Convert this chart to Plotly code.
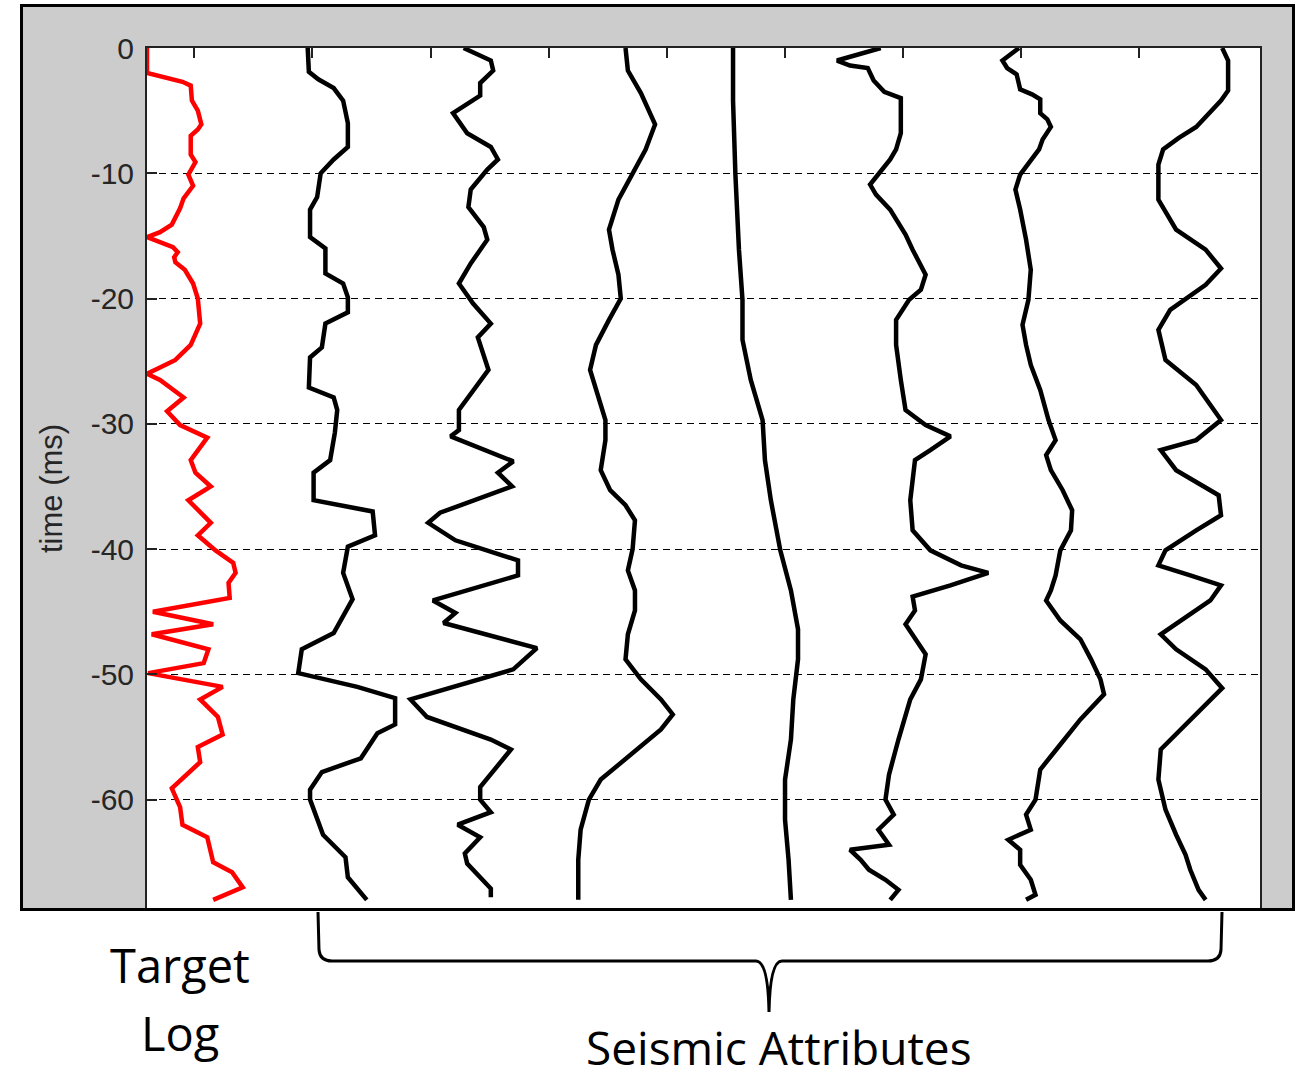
import plotly.graph_objects as go

# ---- data: time (ms) and trace amplitude (offset track units) ----
red_t = [0, -2, -2.7, -3, -4.2, -5, -6.1, -6.5, -7, -8.5, -9.1, -9.7, -10.1, -11, -12, -12.8, -14.1,
         -14.7, -15.1, -15.9, -16.3, -16.7, -17.1, -17.7, -18.8, -20, -22, -23.7, -24.9, -25.5, -26,
         -26.5, -27.9, -29, -30.1, -31.1, -32.9, -33.9, -35, -36.1, -37.9, -38.9, -40.1, -41.1, -41.9,
         -42.7, -43.9, -45, -46, -46.8, -48, -49.1, -49.9, -51, -52, -53.4, -54.8, -55.8, -57, -59.1,
         -60.6, -62, -63, -65, -65.8, -67, -68]
red_x = [-0.40, -0.40, -0.10, -0.03, -0.02, 0.03, 0.06, 0.03, -0.03, -0.03, 0.01, -0.03, -0.05, -0.01,
         -0.09, -0.12, -0.19, -0.29, -0.40, -0.18, -0.14, -0.17, -0.16, -0.08, -0.01, 0.03, 0.05,
         -0.03, -0.16, -0.29, -0.40, -0.29, -0.09, -0.23, -0.12, 0.11, -0.03, 0.01, 0.14, -0.05,
         0.14, 0.03, 0.18, 0.33, 0.35, 0.29, 0.30, -0.35, 0.16, -0.36, 0.12, 0.08, -0.39, 0.24,
         0.05, 0.20, 0.24, 0.03, 0.05, -0.19, -0.12, -0.10, 0.11, 0.16, 0.32, 0.41, 0.16]

a1_t = [0, -1.9, -2.5, -3.2, -4.2, -6, -7.9, -8.9, -10, -11.9, -12.9, -15.1, -16, -18, -18.8, -19.9,
        -21.1, -22, -23.9, -24.7, -27.1, -27.9, -28.9, -30.7, -32.9, -33.9, -36.1, -37, -38.9, -39.8,
        -41.9, -44, -46.7, -48, -49.9, -51, -51.9, -54, -54.7, -56.7, -57.8, -59.2, -60, -62.8,
        -64.6, -66.2, -68]
a1_x = [0.96, 0.97, 1.05, 1.18, 1.26, 1.30, 1.30, 1.18, 1.07, 1.04, 0.98, 0.98, 1.11, 1.11, 1.26,
        1.30, 1.30, 1.11, 1.08, 0.98, 0.97, 1.18, 1.21, 1.19, 1.15, 1.01, 1.01, 1.51, 1.53, 1.30,
        1.26, 1.34, 1.18, 0.91, 0.88, 1.38, 1.70, 1.70, 1.55, 1.41, 1.08, 0.98, 0.98, 1.09, 1.28,
        1.30, 1.46]

a2_t = [0, -1, -1.8, -2.8, -3.8, -5.2, -6.8, -7.9, -8.9, -9.7, -11.3, -12.7, -14.3, -15.3, -17.2,
        -18.8, -20.4, -22, -23.1, -25.7, -28.9, -30.5, -31, -33, -33.9, -35, -37.1, -37.9, -39.3,
        -40.9, -42.1, -44.1, -45.1, -45.9, -47.9, -49.6, -52, -53.4, -55.2, -56, -59, -60, -61,
        -62, -63, -64.3, -65.1, -67.1, -67.8]
a2_x = [2.28, 2.51, 2.53, 2.42, 2.42, 2.19, 2.31, 2.51, 2.57, 2.48, 2.34, 2.32, 2.45, 2.48, 2.34,
        2.24, 2.36, 2.51, 2.40, 2.49, 2.24, 2.24, 2.17, 2.70, 2.57, 2.69, 2.08, 1.98, 2.21, 2.74,
        2.74, 2.02, 2.21, 2.11, 2.90, 2.70, 1.83, 1.97, 2.51, 2.68, 2.42, 2.42, 2.51, 2.23, 2.42,
        2.29, 2.31, 2.51, 2.51]

a3_t = [0, -1.8, -3.6, -6.1, -8.1, -10.1, -12.1, -14.5, -16.1, -18.1, -20, -21.7, -23.7, -25.7,
        -27.3, -29.7, -31.3, -33.7, -35.3, -36.5, -37.7, -40, -41.7, -43.3, -44.9, -46.8, -48.8,
        -50.4, -52, -53.2, -54.4, -56.4, -58.4, -60, -62.4, -64.8, -68]
a3_x = [3.65, 3.67, 3.78, 3.90, 3.82, 3.71, 3.59, 3.51, 3.54, 3.59, 3.61, 3.51, 3.40, 3.35, 3.40,
        3.48, 3.48, 3.44, 3.52, 3.65, 3.73, 3.71, 3.67, 3.73, 3.73, 3.67, 3.65, 3.78, 3.95, 4.05,
        3.95, 3.69, 3.44, 3.34, 3.27, 3.25, 3.25]

a4_t = [0, -4.2, -10.1, -16.1, -20.1, -23.3, -26.5, -29.7, -32.9, -36.1, -40.1, -43.3, -46.4, -48.8,
        -52, -55.2, -58.4, -61.6, -64.8, -68]
a4_x = [4.56, 4.56, 4.58, 4.61, 4.64, 4.64, 4.71, 4.81, 4.83, 4.88, 4.96, 5.05, 5.11, 5.11, 5.07,
        5.05, 5.00, 5.00, 5.03, 5.05]

a5_t = [0, -1, -1.4, -1.6, -2.6, -3.5, -4, -6.8, -8.1, -8.9, -10.9, -11.7, -12.9, -14.9, -16.1,
        -18.1, -19.3, -20.1, -21.7, -23.7, -26.5, -28.9, -30.1, -31, -32.1, -32.9, -36.1, -38.5,
        -40.1, -41.3, -41.9, -42.9, -43.8, -44.9, -46, -47.2, -48.4, -50.4, -52, -55.2, -58, -60,
        -61.2, -62.4, -63.6, -64, -64.8, -65.6, -66.4, -67.2, -68]
a5_x = [5.81, 5.44, 5.55, 5.70, 5.75, 5.84, 5.98, 5.98, 5.94, 5.89, 5.72, 5.77, 5.89, 6.02, 6.08,
        6.19, 6.15, 6.05, 5.94, 5.94, 5.98, 6.02, 6.19, 6.40, 6.23, 6.10, 6.06, 6.08, 6.23, 6.49,
        6.72, 6.40, 6.08, 6.10, 6.02, 6.10, 6.19, 6.15, 6.06, 5.96, 5.88, 5.85, 5.92, 5.79, 5.88,
        5.55, 5.64, 5.71, 5.85, 5.96, 5.89]

a6_t = [0, -1, -1.6, -2.1, -2.9, -3.3, -3.7, -4.1, -5.2, -5.7, -6.3, -7.3, -8.1, -10.1, -11.3,
        -12.9, -15.3, -17.7, -20.1, -22.1, -23.7, -25.3, -27.3, -29.7, -31.3, -32.5, -33.7, -35.3,
        -36.9, -38.5, -40.1, -42.1, -43.3, -44.1, -45.7, -47.2, -48.8, -50.4, -51.6, -53.6, -55.6,
        -57.6, -60, -61.2, -62.4, -63.2, -64, -65.2, -66.4, -67.6, -68]
a6_x = [6.98, 6.84, 6.88, 6.96, 6.98, 6.99, 7.09, 7.16, 7.16, 7.22, 7.25, 7.18, 7.15, 6.99, 6.95,
        6.99, 7.04, 7.08, 7.06, 7.01, 7.04, 7.08, 7.16, 7.23, 7.29, 7.21, 7.25, 7.35, 7.43, 7.42,
        7.33, 7.29, 7.25, 7.21, 7.33, 7.50, 7.59, 7.67, 7.70, 7.50, 7.33, 7.16, 7.12, 7.04, 7.08,
        6.89, 6.99, 6.99, 7.08, 7.12, 7.04]

a7_t = [0, -1, -3.4, -4.2, -6.3, -7.2, -8.1, -9.3, -12.1, -14.5, -16.1, -17.6, -18.9, -20.9, -22.5,
        -24.9, -26.9, -29.7, -31.3, -32.1, -33.7, -35.7, -37.3, -38.5, -40.1, -41.3, -42.1, -42.9,
        -44.1, -45.7, -46.8, -48, -49.6, -51.1, -52.4, -54, -56, -58.4, -60.8, -62.8, -64.4, -65.6,
        -67.2, -68]
a7_x = [8.70, 8.75, 8.75, 8.69, 8.48, 8.33, 8.20, 8.16, 8.16, 8.31, 8.56, 8.69, 8.56, 8.26, 8.16,
        8.22, 8.48, 8.69, 8.48, 8.18, 8.31, 8.67, 8.69, 8.48, 8.22, 8.16, 8.43, 8.69, 8.60, 8.35,
        8.18, 8.31, 8.56, 8.70, 8.56, 8.39, 8.18, 8.16, 8.22, 8.31, 8.39, 8.43, 8.50, 8.56]

y_ticks = [0, -10, -20, -30, -40, -50, -60]
y_tick_text = ["0", "-10", "-20", "-30", "-40", "-50", "-60"]
x_ticks = [0, 1, 2, 3, 4, 5, 6, 7, 8]

# ---- figure geometry (pixels) ----
W, H = 1296, 1080
L, R, T, B = 147, 1260, 48, 908


def px(x):
    return (x - L) / (R - L)


def py(y):
    return (B - y) / (B - T)


fig = go.Figure()

fig.add_trace(go.Scatter(x=red_x, y=red_t, mode="lines",
                         line=dict(color="#ff0000", width=4.5), showlegend=False))
for xs, ts in [(a1_x, a1_t), (a2_x, a2_t), (a3_x, a3_t), (a4_x, a4_t),
               (a5_x, a5_t), (a6_x, a6_t), (a7_x, a7_t)]:
    fig.add_trace(go.Scatter(x=xs, y=ts, mode="lines",
                             line=dict(color="black", width=4.5), showlegend=False))

# gray window frame around the axes
gray = "#cccccc"
shapes = [
    dict(type="rect", xref="paper", yref="paper", x0=px(20), x1=px(1295), y0=py(48), y1=py(5),
         fillcolor=gray, line=dict(width=0), layer="below"),
    dict(type="rect", xref="paper", yref="paper", x0=px(20), x1=px(147), y0=py(910), y1=py(48),
         fillcolor=gray, line=dict(width=0), layer="below"),
    dict(type="rect", xref="paper", yref="paper", x0=px(1260), x1=px(1295), y0=py(910), y1=py(48),
         fillcolor=gray, line=dict(width=0), layer="below"),
    dict(type="rect", xref="paper", yref="paper", x0=px(21.5), x1=px(1293.5), y0=py(909.5),
         y1=py(5.5), line=dict(color="black", width=3), fillcolor="rgba(0,0,0,0)", layer="above"),
]


def pt(x, y):
    return f"{px(x):.5f},{py(y):.5f}"


# curly brace under the attribute tracks
brace = (f"M {pt(318, 912)} L {pt(319, 950)} Q {pt(320, 961)} {pt(332, 961)} "
         f"L {pt(756, 961)} Q {pt(768, 961)} {pt(769, 1012)} "
         f"Q {pt(770, 961)} {pt(782, 961)} L {pt(1208, 961)} "
         f"Q {pt(1220, 961)} {pt(1221, 950)} L {pt(1222, 912)}")
shapes.append(dict(type="path", xref="paper", yref="paper", path=brace,
                   line=dict(color="black", width=3), layer="above"))

label_font = dict(family="Open Sans", size=47, color="black")
annotations = [
    dict(text="Target", x=px(180), y=py(965), xref="paper", yref="paper", showarrow=False,
         xanchor="center", yanchor="middle", font=label_font),
    dict(text="Log", x=px(180), y=py(1033), xref="paper", yref="paper", showarrow=False,
         xanchor="center", yanchor="middle", font=label_font),
    dict(text="Seismic Attributes", x=px(779), y=py(1079), xref="paper", yref="paper",
         showarrow=False, xanchor="center", yanchor="bottom", borderpad=0,
         font=dict(family="Open Sans", size=46, color="black")),
    dict(text="time (ms)", x=px(52), y=py(489), xref="paper", yref="paper", showarrow=False,
         xanchor="center", yanchor="middle", textangle=-90,
         font=dict(family="Liberation Sans", size=31, color="#262626")),
]

fig.update_layout(
    width=W, height=H,
    margin=dict(l=L, r=W - R, t=T, b=H - B, pad=0),
    paper_bgcolor="white", plot_bgcolor="white",
    shapes=shapes, annotations=annotations, showlegend=False,
    xaxis=dict(range=[-0.40, 9.02], side="top", tickvals=x_ticks, showticklabels=False,
               ticks="inside", ticklen=10, tickwidth=1.5, tickcolor="#222222",
               showline=True, linecolor="#222222", linewidth=2, mirror=True,
               showgrid=False, zeroline=False),
    yaxis=dict(range=[-68.65, 0], tickvals=y_ticks, ticktext=y_tick_text,
               ticks="inside", ticklen=10, tickwidth=1.5, tickcolor="#222222",
               ticklabelstandoff=5,
               tickfont=dict(family="Liberation Sans", size=30, color="#262626"),
               showline=True, linecolor="#222222", linewidth=2, mirror=True,
               showgrid=True, gridcolor="black", gridwidth=1.3, griddash="7px,5px",
               zeroline=False),
)

fig.write_html("out.html")
